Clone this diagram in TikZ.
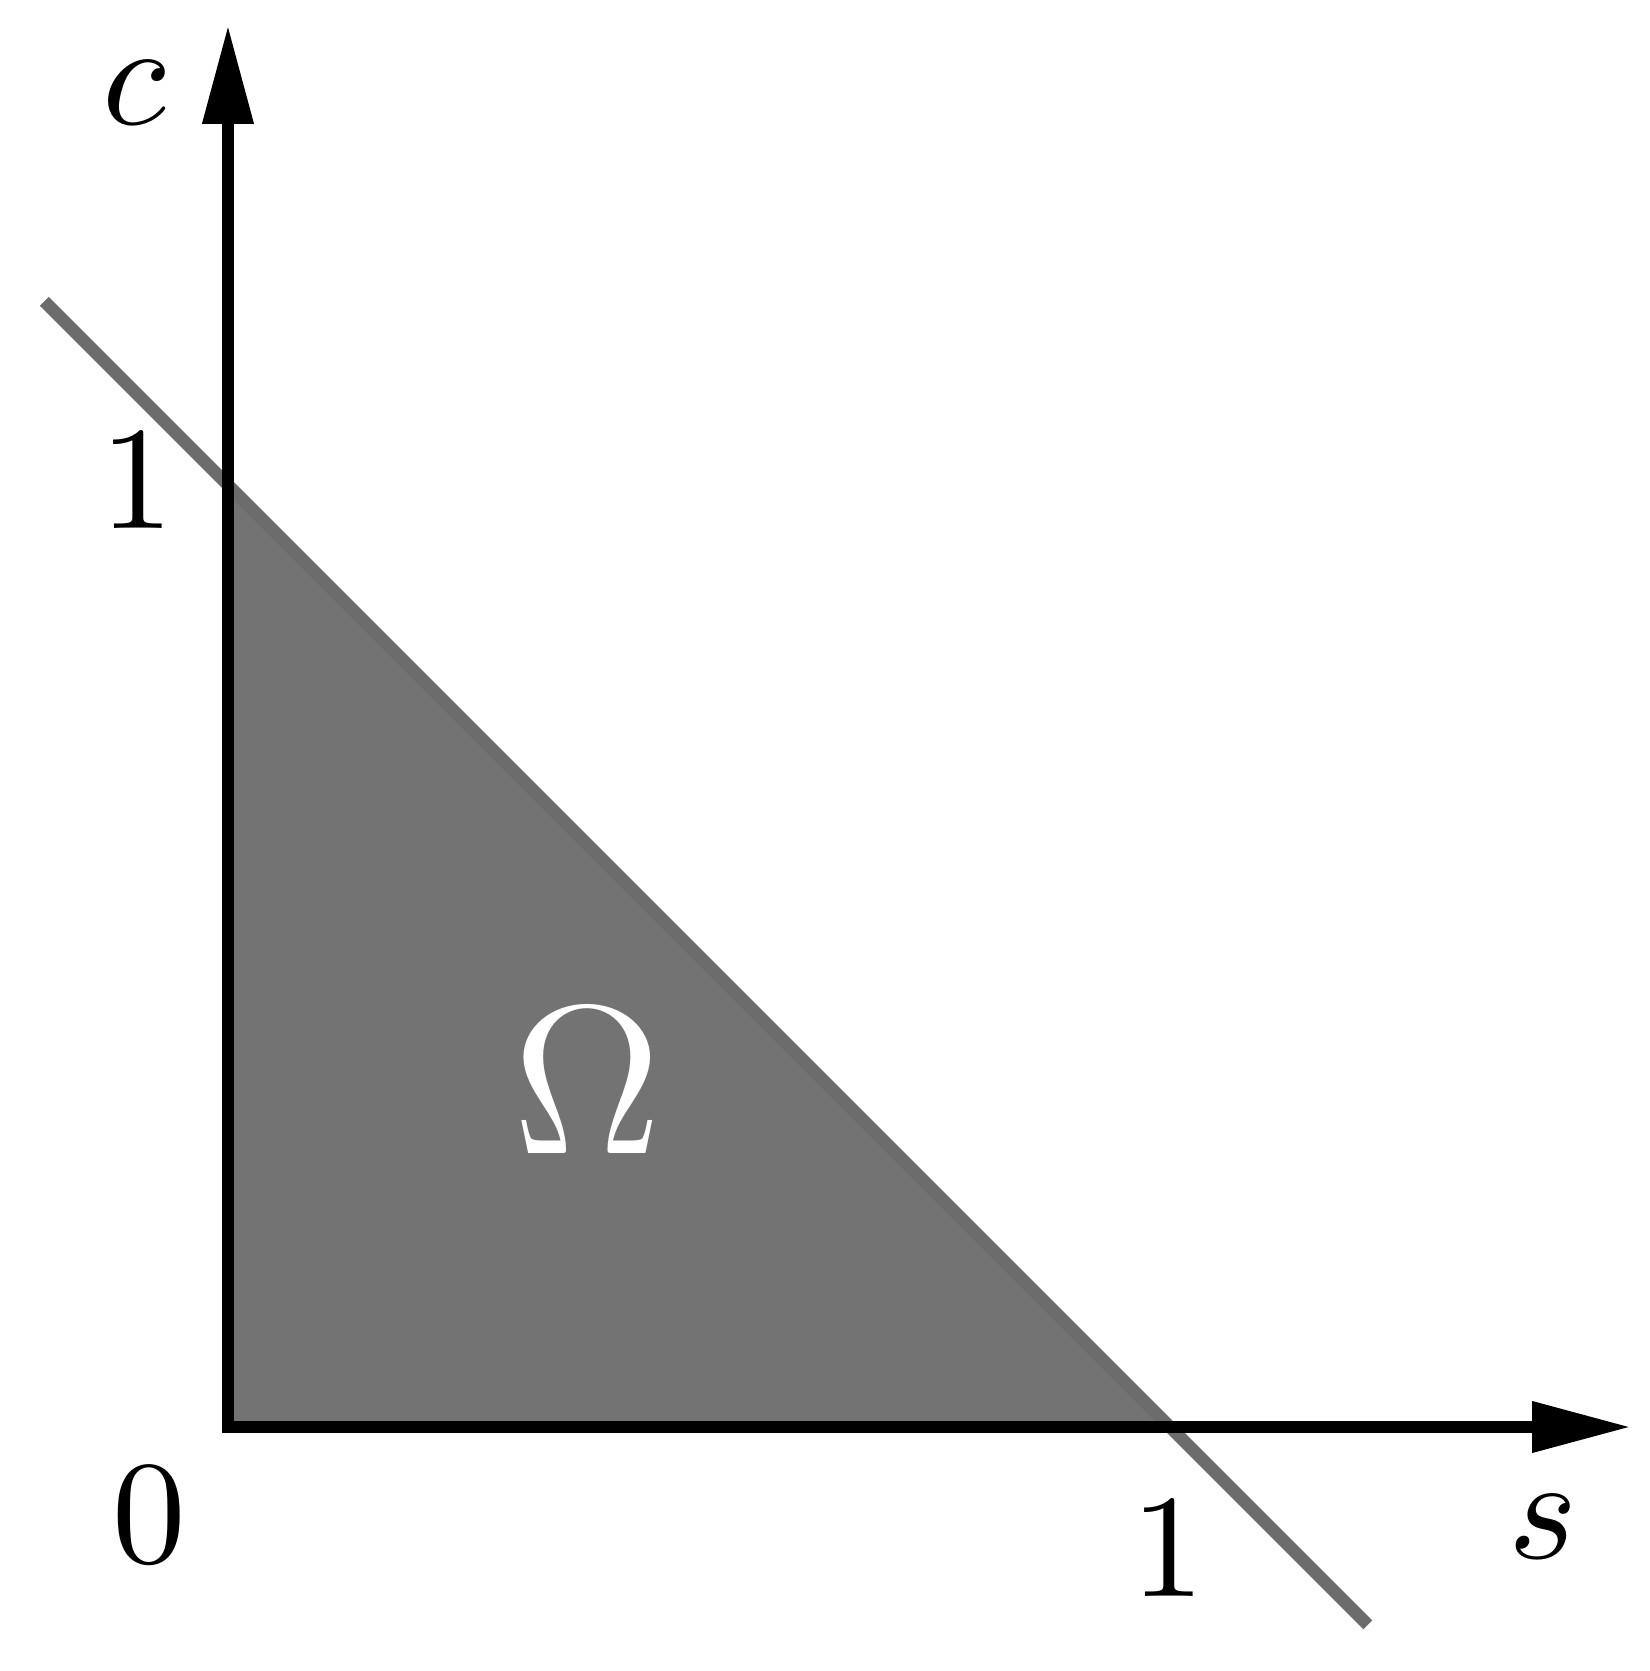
\documentclass[tikz,border=0pt]{standalone}
\usetikzlibrary{arrows.meta}
\definecolor{regiongray}{RGB}{115,115,115}
\definecolor{linegray}{RGB}{108,108,108}
\tikzset{
  axistip/.tip={Triangle[length=6.7pt,width=3.3pt]},
  axisline/.style={line width=0.8pt, black, axistip-axistip},
  boundline/.style={line width=0.85pt, linegray},
  lbl/.style={inner sep=0pt, outer sep=0pt}
}
\begin{document}
\begin{tikzpicture}[x=2.2515cm,y=2.2515cm]
\useasboundingbox (-0.242,-0.259) rectangle (1.5085,1.5149);
\coordinate (O) at (0,0);
\coordinate (S1) at (1,0);
\coordinate (C1) at (0,1);
\coordinate (Lstart) at (-0.195,1.195);
\coordinate (Lend) at (1.21,-0.21);
\coordinate (Xend) at (1.489,0);
\coordinate (Yend) at (0,1.488);
\fill[regiongray] (O) -- (S1) -- (C1) -- cycle;
\draw[boundline] (Lstart) -- (Lend);
\draw[axisline] (Yend) -- (O) -- (Xend);
\node[lbl] (lc) at (-0.099,1.416) {$c$};
\node[lbl] (ls) at (1.396,-0.106) {$s$};
\node[lbl] (l0) at (-0.084,-0.093) {$0$};
\node[lbl] (l1c) at (-0.096,1.004) {$1$};
\node[lbl] (l1s) at (0.998,-0.130) {$1$};
\node[lbl, text=white] (om) at (0.381,0.367) {\Large$\Omega$};
\end{tikzpicture}
\end{document}
